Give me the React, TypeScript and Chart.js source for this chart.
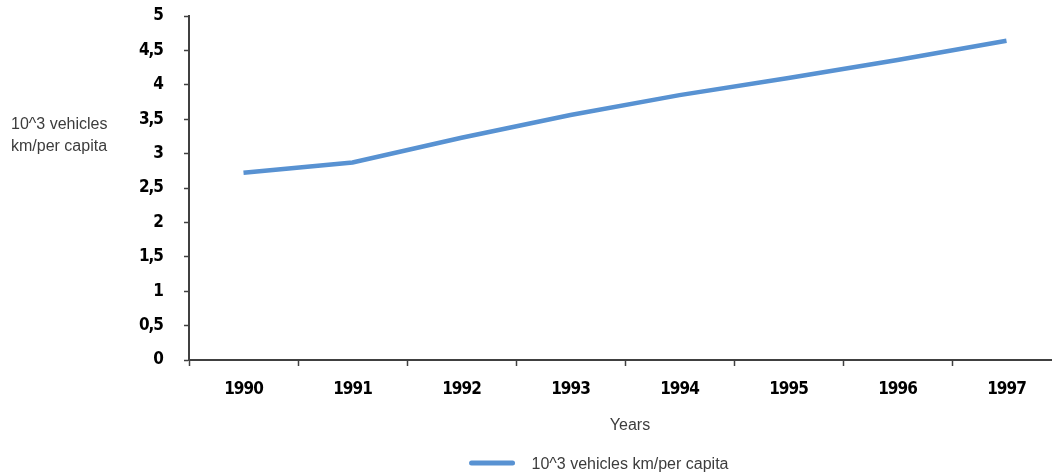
import React, { useEffect, useRef } from 'react';
import { Chart, registerables } from 'chart.js';

Chart.register(...registerables);

const YEARS = ['1990', '1991', '1992', '1993', '1994', '1995', '1996', '1997'];
const VEHICLE_KM = [2.72, 2.87, 3.23, 3.56, 3.85, 4.1, 4.36, 4.64];
const SERIES_LABEL = '10^3 vehicles km/per capita';
const Y_TITLE_LINES = ['10^3 vehicles', 'km/per capita'];
const X_TITLE = 'Years';
const Y_MIN = 0;
const Y_MAX = 5;
const Y_STEP = 0.5;

const LINE_COLOR = 'rgb(88,146,210)';
const AXIS_COLOR = '#404040';
const TEXT_COLOR = '#3c3c3c';
const TICK_FONT_FAMILY = '"Liberation Sans Narrow", "DejaVu Sans Condensed", "Noto Sans", sans-serif';
const TEXT_FONT_FAMILY = '"Liberation Sans", Arial, sans-serif';

const condensePlugin = {
  id: 'condense',
  beforeDraw(chart: any) {
    (chart.ctx as any).letterSpacing = '-1px';
  },
  afterDraw(chart: any) {
    (chart.ctx as any).letterSpacing = '0px';
  },
};

const sideTextPlugin = {
  id: 'sideText',
  afterDraw(chart: any) {
    const ctx = chart.ctx;
    const area = chart.chartArea;
    ctx.save();
    (ctx as any).letterSpacing = '0px';
    ctx.font = `16px ${TEXT_FONT_FAMILY}`;
    ctx.fillStyle = TEXT_COLOR;
    ctx.textAlign = 'left';
    ctx.textBaseline = 'middle';
    ctx.fillText(Y_TITLE_LINES[0], 11, 125);
    ctx.fillText(Y_TITLE_LINES[1], 11, 147);

    // x-axis title
    ctx.textAlign = 'center';
    ctx.fillText(X_TITLE, (area.left + area.right) / 2 + 5, 426);

    // legend
    ctx.textAlign = 'left';
    const ds = chart.data.datasets[0];
    const sampleW = 45;
    const gap = 17;
    const textW = ctx.measureText(ds.label).width;
    const total = sampleW + gap + textW;
    const startX = 599 - total / 2;
    const y = 463;
    ctx.strokeStyle = ds.borderColor;
    ctx.lineWidth = 5;
    ctx.lineCap = 'round';
    ctx.beginPath();
    ctx.moveTo(startX + 2, y);
    ctx.lineTo(startX + sampleW - 2, y);
    ctx.stroke();
    ctx.fillStyle = TEXT_COLOR;
    ctx.fillText(ds.label, startX + sampleW + gap, y + 2);
    ctx.restore();
  },
};

export default function App() {
  const canvasRef = useRef<HTMLCanvasElement | null>(null);

  useEffect(() => {
    if (!canvasRef.current) return;
    const chart = new Chart(canvasRef.current, {
      type: 'line',
      data: {
        labels: YEARS,
        datasets: [
          {
            label: SERIES_LABEL,
            data: VEHICLE_KM,
            borderColor: LINE_COLOR,
            backgroundColor: LINE_COLOR,
            borderWidth: 4.5,
            pointRadius: 0,
            pointHoverRadius: 0,
            tension: 0,
            fill: false,
          },
        ],
      },
      options: {
        responsive: false,
        animation: false,
        devicePixelRatio: 1,
        layout: { padding: { top: 16, left: 0, right: 0, bottom: 0 } },
        plugins: {
          legend: { display: false },
          tooltip: { enabled: false },
          title: { display: false },
        },
        scales: {
          x: {
            type: 'category',
            offset: true,
            afterFit(scale: any) {
              scale.height = 115;
              scale.paddingLeft = 0;
              scale.paddingRight = 0;
            },
            grid: {
              offset: true,
              drawOnChartArea: false,
              drawTicks: true,
              tickLength: 6,
              tickColor: AXIS_COLOR,
              tickWidth: 1.5,
            },
            border: { color: AXIS_COLOR, width: 2 },
            ticks: {
              color: '#000',
              padding: 13,
              maxRotation: 0,
              autoSkip: false,
              font: { family: TICK_FONT_FAMILY, size: 17, weight: 'bold' },
            },
          },
          y: {
            type: 'linear',
            min: Y_MIN,
            max: Y_MAX,
            afterFit(scale: any) {
              scale.width = 189;
              scale.paddingTop = 0;
              scale.paddingBottom = 0;
            },
            grid: {
              drawOnChartArea: false,
              drawTicks: true,
              tickLength: 5,
              tickColor: AXIS_COLOR,
              tickWidth: 1.5,
            },
            border: { color: AXIS_COLOR, width: 2 },
            ticks: {
              stepSize: Y_STEP,
              color: '#000',
              padding: 21,
              font: { family: TICK_FONT_FAMILY, size: 17, weight: 'bold' },
              callback: (v: any) => String(v).replace('.', ','),
            },
          },
        },
      },
      plugins: [condensePlugin, sideTextPlugin],
    });
    return () => chart.destroy();
  }, []);

  return (
    <div
      style={{
        position: 'absolute',
        left: 0,
        top: 0,
        width: 1052,
        height: 475,
        overflow: 'hidden',
        background: '#fff',
      }}
    >
      <canvas ref={canvasRef} width={1061} height={475} style={{ display: 'block' }} />
    </div>
  );
}
